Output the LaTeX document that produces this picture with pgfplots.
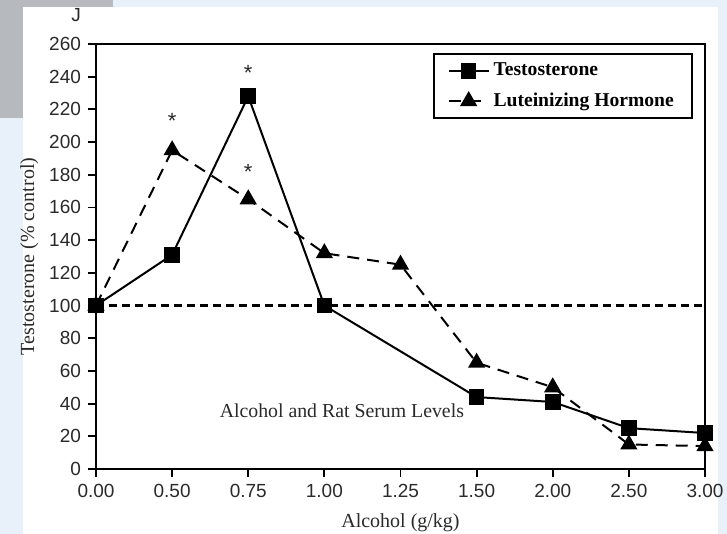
\documentclass[border=0pt]{standalone}
\usepackage{pgfplots}
\pgfplotsset{compat=1.18}
\usepackage{fontspec}
\setmainfont{Liberation Serif}
\setsansfont{Liberation Sans}
\definecolor{bgblue}{HTML}{E8F1FA}
\definecolor{boxgrey}{HTML}{B6B9BD}
\definecolor{tickgrey}{HTML}{2A2A2A}
\begin{document}
\begin{tikzpicture}
% background (1 px = 0.5pt)
\fill[bgblue] (0pt,0pt) rectangle (363.5pt,267pt);
\fill[boxgrey] (0pt,208pt) rectangle (56.5pt,267pt);
\fill[white] (11.5pt,0pt) rectangle (359pt,263.5pt);
\node[font=\sffamily\fontsize{9.5}{11}\selectfont, text=tickgrey] at (38pt,259.5pt) {J};
\begin{axis}[
  at={(48pt,32.5pt)}, anchor=south west,
  scale only axis, width=304.5pt, height=212.5pt,
  xmin=0, xmax=8, ymin=0, ymax=260,
  xtick={0,1,2,3,4,5,6,7,8},
  xticklabels={0.00,0.50,0.75,1.00,1.25,1.50,2.00,2.50,3.00},
  ytick={0,20,...,260},
  tick align=outside, xtick pos=left, ytick pos=left,
  major tick length=4pt,
  every tick/.style={black, line width=0.9pt},
  axis line style={line width=1pt, black},
  ticklabel style={font=\sffamily\fontsize{9.5}{11}\selectfont, text=tickgrey},
  /pgf/number format/assume math mode=true,
  xlabel={Alcohol (g/kg)},
  ylabel={Testosterone (\% control)},
  label style={font=\rmfamily\fontsize{10}{12}\selectfont, text=tickgrey},
  xlabel style={yshift=-1pt},
  ylabel style={yshift=-1.5pt},
  clip=false,
  legend style={at={(0.980,0.979)}, anchor=north east, draw=black, line width=1pt,
    font=\rmfamily\bfseries\fontsize{9.8}{11}\selectfont, inner xsep=7pt, inner ysep=2.5pt,
    row sep=3pt, legend cell align=left},
  legend image code/.code={
    \draw[mark repeat=2,mark phase=2] plot coordinates {(0cm,0cm) (0.35cm,0cm) (0.7cm,0cm)};},
]
\addplot[black, line width=1pt, mark=square*, mark size=3.4pt, mark options={solid}]
  coordinates {(0,100) (1,131) (2,228) (3,100) (5,44) (6,41) (7,25) (8,22)};
\addlegendentry{Testosterone}
\addplot[black, line width=1pt, dash pattern=on 6pt off 4pt, mark=triangle*, mark size=4pt, mark options={solid}]
  coordinates {(0,100) (1,195) (2,165) (3,132) (4,125) (5,65) (6,50) (7,15) (8,14)};
\addlegendentry{Luteinizing Hormone\hspace{3pt}}
\addplot[black, line width=1.1pt, dash pattern=on 4pt off 2.5pt, forget plot]
  coordinates {(0,100) (8,100)};
\node[font=\sffamily\fontsize{11}{12}\selectfont, text=tickgrey] at (axis cs:1,213) {*};
\node[font=\sffamily\fontsize{11}{12}\selectfont, text=tickgrey] at (axis cs:2,242) {*};
\node[font=\sffamily\fontsize{11}{12}\selectfont, text=tickgrey] at (axis cs:2,182) {*};
\node[font=\rmfamily\fontsize{9.9}{11}\selectfont, text=tickgrey] at (axis cs:3.23,35.5) {Alcohol and Rat Serum Levels};
\end{axis}
\pgfresetboundingbox
\useasboundingbox (0pt,0pt) rectangle (363.5pt,267pt);
\end{tikzpicture}
\end{document}
